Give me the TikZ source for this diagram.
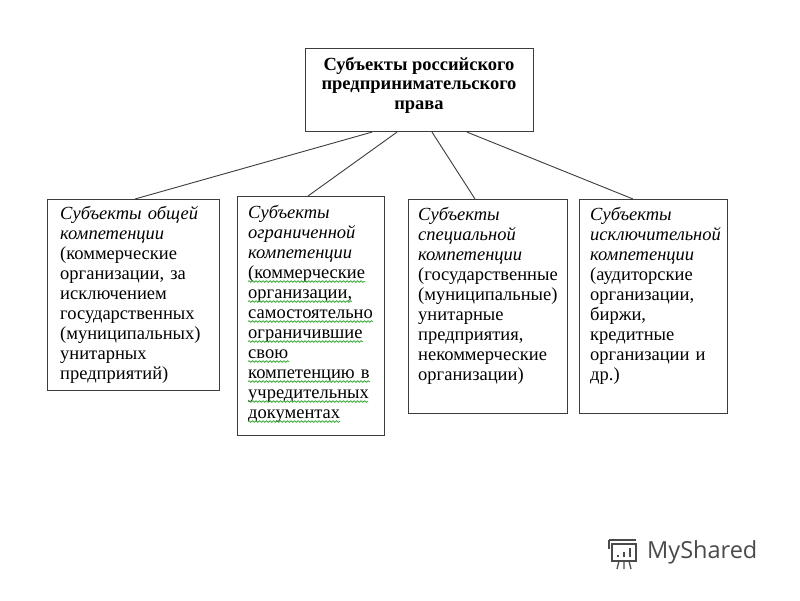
\documentclass[tikz,border=0pt]{standalone}
\usepackage{fontspec}
\usetikzlibrary{decorations.pathmorphing}
\setmainfont{Liberation Serif}
\newfontfamily\logofont{Open Sans}
\definecolor{framegray}{HTML}{3C3C3C}
\definecolor{wavegreen}{HTML}{3DAA3D}
\definecolor{logogray}{HTML}{4A4A4A}
\newcommand{\boxfont}{\fontsize{18.5}{20}\selectfont}
\tikzset{
  box/.style={draw=framegray, line width=1.1pt, anchor=north west, inner sep=0pt},
  boxtext/.style={anchor=north west, inner sep=0pt, text width=#1, align=left, font=\boxfont},
  link/.style={draw=framegray, line width=0.9pt},
  wave/.style={draw=wavegreen, line width=0.8pt, decorate,
    decoration={snake, amplitude=0.8pt, segment length=3.5pt}},
}
\begin{document}
\begin{tikzpicture}[x=1pt, y=1pt]
\useasboundingbox[fill=white] (0,0) rectangle (800,-600); % page
% title box
\node[box, minimum width=228, minimum height=83] (title) at (305,-48) {};
\node[anchor=north, inner sep=0pt, align=center, font=\fontsize{18.5}{19.5}\selectfont\bfseries]
  (titletext) at (419,-57) {Субъекты российского\\предпринимательского\\права};
% four boxes
\node[box, minimum width=172, minimum height=191] (general) at (47,-199) {};
\node[box, minimum width=147, minimum height=239] (limited) at (237,-196) {};
\node[box, minimum width=159, minimum height=214] (special) at (408,-199) {};
\node[box, minimum width=148, minimum height=214] (exclusive) at (579,-199) {};
% texts of the boxes
\node[boxtext=160] (generaltext) at (60,-206) {\textit{Субъекты общей}\\\textit{компетенции}\\(коммерческие\\организации, за\\исключением\\государственных\\(муниципальных)\\унитарных\\предприятий)};
\node[boxtext=140] (limitedtext) at (248,-205) {\textit{Субъекты}\\\textit{ограниченной}\\\textit{компетенции}\\(коммерческие\\организации,\\самостоятельно\\ограничившие\\свою\\компетенцию в\\учредительных\\документах};
\node[boxtext=150] (specialtext) at (418,-207) {\textit{Субъекты}\\\textit{специальной}\\\textit{компетенции}\\(государственные\\(муниципальные)\\унитарные\\предприятия,\\некоммерческие\\организации)};
\node[boxtext=140] (exclusivetext) at (590,-207) {\textit{Субъекты}\\\textit{исключительной}\\\textit{компетенции}\\(аудиторские\\организации,\\биржи,\\кредитные\\организации и\\др.)};
% green wavy underlines of the spell checker
\foreach \wline/\wlen in {3/117, 4/104, 5/125, 6/115, 7/41, 8/122, 9/120, 10/92}
  \draw[wave] ([yshift={-16.5-20*\wline}]limitedtext.north west) -- ++(\wlen,0);
% links from the title
\draw[link] ([xshift=67]title.south west) -- ([xshift=88]general.north west);
\draw[link] ([xshift=92]title.south west) -- ([xshift=71]limited.north west);
\draw[link] ([xshift=127]title.south west) -- ([xshift=67]special.north west);
\draw[link] ([xshift=162]title.south west) -- ([xshift=54]exclusive.north west);
% watermark
\begin{scope}[draw=logogray, line width=1.3pt]
\draw (612,-544) rectangle (636,-561); % board
\draw (609,-540) -- (636,-540); % roll
\draw (609,-540) -- (609,-549); % roll end
\draw[line width=2pt] (618,-557) -- (618,-555) (624,-557) -- (624,-552) (630,-557) -- (630,-548); % bars
\draw (624,-561) -- (624,-569) (619,-561) -- (617,-569) (629,-561) -- (631,-569); % stand
\end{scope}
\node[anchor=base west, inner sep=0pt, text=logogray, font=\fontsize{23.5}{23.5}\logofont]
  (logo) at (647,-558) {MyShared};
\end{tikzpicture}
\end{document}
